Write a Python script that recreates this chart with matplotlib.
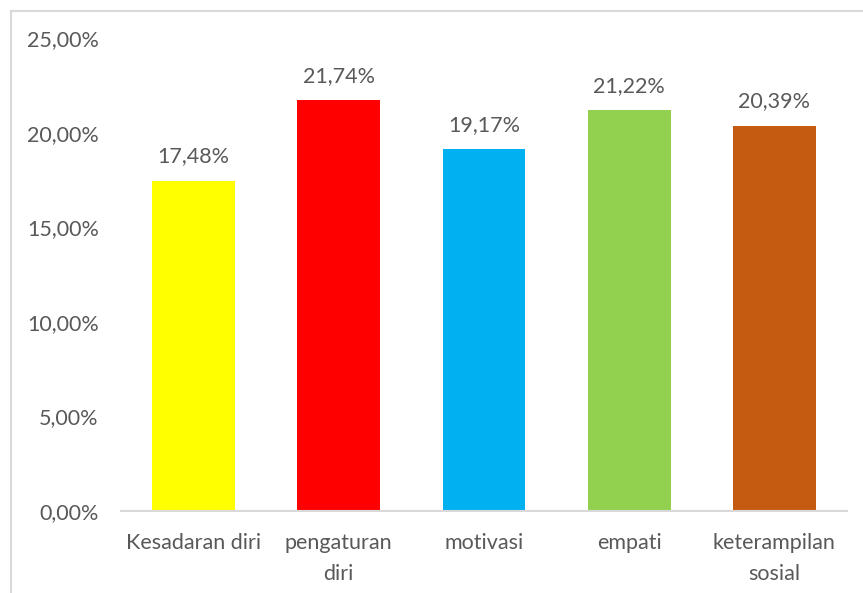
import matplotlib
matplotlib.use("Agg")
import matplotlib.pyplot as plt
from matplotlib.lines import Line2D

categories = ["Kesadaran diri", "pengaturan\ndiri", "motivasi", "empati", "keterampilan\nsosial"]
values = [17.48, 21.74, 19.17, 21.22, 20.39]
colors = ["#FFFF00", "#FF0000", "#00B0F0", "#92D050", "#C55A11"]
yticks = [0, 5, 10, 15, 20, 25]

plt.rcParams['font.family'] = ['Lato', 'DejaVu Sans']
text_color = "#595959"

fig = plt.figure(figsize=(8.63, 5.93), dpi=100)
ax = fig.add_axes([121 / 863, 1 - 511 / 593, 726 / 863, (511 - 38.5) / 593])

x = range(len(categories))
bars = ax.bar(x, values, width=0.57, color=colors)

for xi, v in zip(x, values):
    ax.annotate(f"{v:.2f}%".replace(".", ","), (xi, v), xytext=(0, 13),
                textcoords="offset points", ha="center", va="baseline",
                fontsize=15.5, color=text_color)

ax.set_xlim(-0.5, len(categories) - 0.5)
ax.set_ylim(0, 25)
ax.set_yticks(yticks)
ax.set_yticklabels([f"{t:.2f}%".replace(".", ",") for t in yticks])
ax.set_xticks(list(x))
ax.set_xticklabels(categories)
ax.tick_params(axis="y", length=0, pad=16, labelsize=15.5, labelcolor=text_color)
ax.tick_params(axis="x", length=0, pad=16, labelsize=15.5, labelcolor=text_color)
for lbl in ax.get_xticklabels():
    lbl.set_multialignment("center")
    lbl.set_linespacing(1.65)
for s in ["top", "right", "left"]:
    ax.spines[s].set_visible(False)
ax.spines["bottom"].set_color("#D9D9D9")
ax.spines["bottom"].set_linewidth(1.5)

# chart border
bx = 10.5 / 863
by = 1 - 10.5 / 593
fig.add_artist(Line2D([bx, bx], [0, by], color="#D9D9D9", lw=1.5))
fig.add_artist(Line2D([bx, 1], [by, by], color="#D9D9D9", lw=1.5))

fig.savefig("out.png", dpi=100)
